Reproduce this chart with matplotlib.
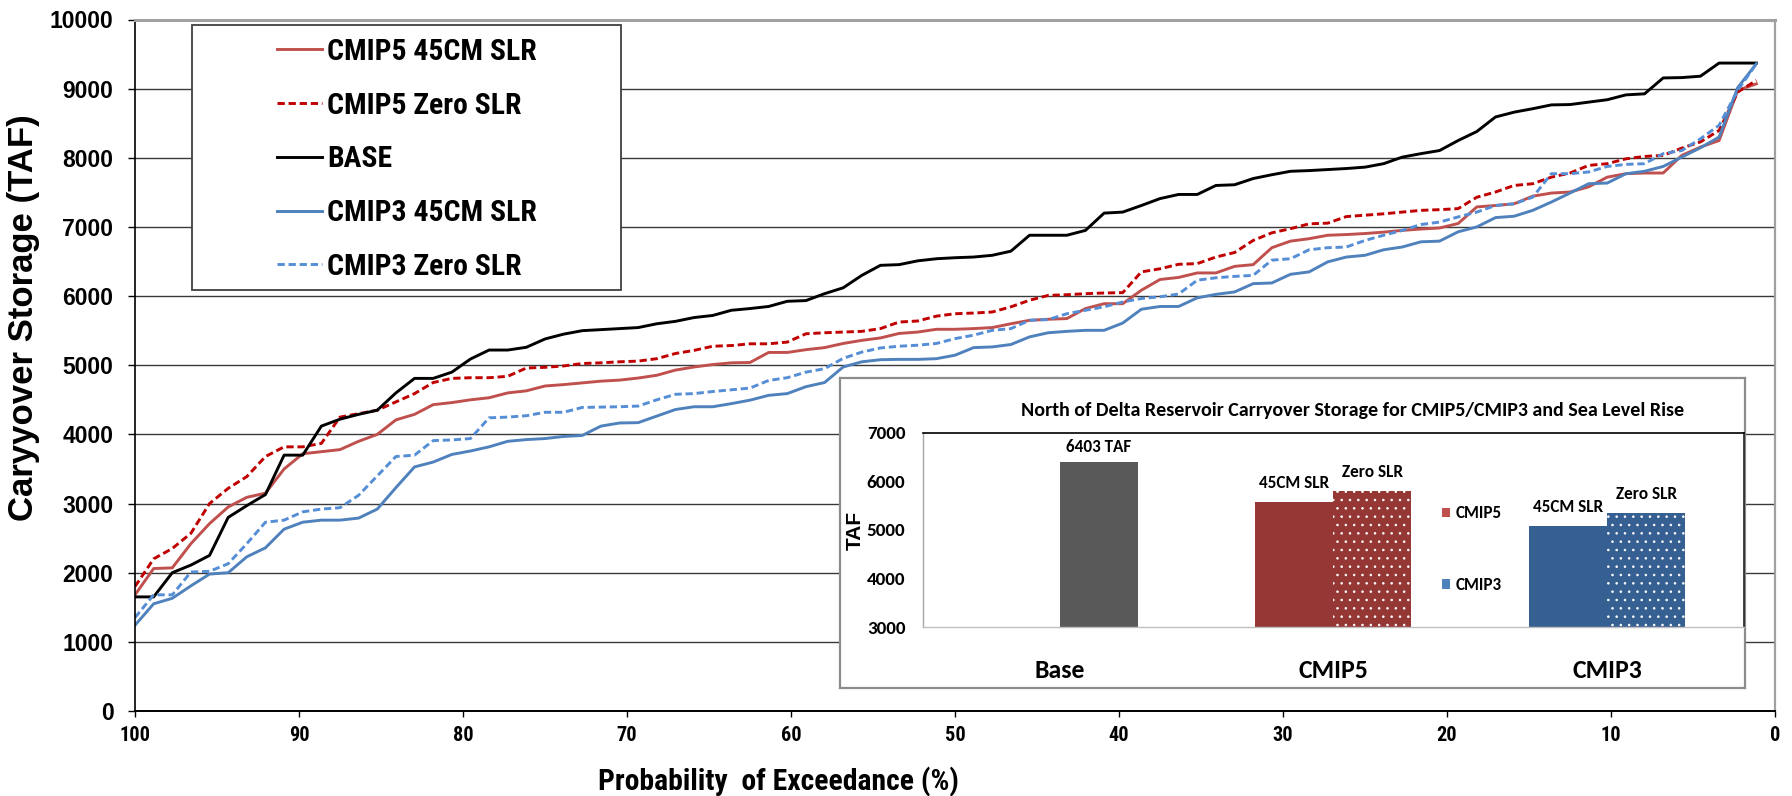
import numpy as np
import matplotlib
matplotlib.use("Agg")
import matplotlib.pyplot as plt
from matplotlib import font_manager
from matplotlib.patches import Patch, Rectangle

# ------------------------------------------------------------------ data
series_labels = ["CMIP5 45CM SLR", "CMIP5 Zero SLR", "BASE",
                 "CMIP3 45CM SLR", "CMIP3 Zero SLR"]

cmip5_45cm = [1680, 2060, 2070, 2420, 2710, 2950, 3090, 3150, 3500, 3720,
              3750, 3780, 3900, 4000, 4210, 4290, 4430, 4460, 4500, 4530,
              4600, 4630, 4700, 4720, 4745, 4770, 4785, 4815, 4855, 4930,
              4975, 5010, 5035, 5040, 5185, 5185, 5225, 5255, 5315, 5360,
              5395, 5460, 5480, 5520, 5520, 5530, 5545, 5600, 5650, 5665,
              5675, 5820, 5890, 5890, 6085, 6240, 6270, 6335, 6335, 6430,
              6455, 6700, 6795, 6830, 6880, 6890, 6905, 6925, 6950, 6970,
              6985, 7050, 7290, 7310, 7335, 7445, 7490, 7505, 7580, 7720,
              7770, 7780, 7780, 8035, 8155, 8250, 8975, 9070]

cmip5_zero = [1800, 2200, 2350, 2570, 3000, 3220, 3390, 3680, 3820, 3820,
              3870, 4250, 4300, 4350, 4470, 4590, 4750, 4810, 4820, 4820,
              4840, 4960, 4970, 4990, 5025, 5035, 5050, 5060, 5095, 5170,
              5215, 5275, 5285, 5310, 5310, 5335, 5455, 5470, 5480, 5490,
              5530, 5625, 5640, 5710, 5745, 5755, 5770, 5845, 5940, 6010,
              6020, 6035, 6045, 6050, 6350, 6395, 6460, 6470, 6565, 6630,
              6805, 6915, 6975, 7045, 7055, 7150, 7170, 7190, 7215, 7240,
              7250, 7265, 7430, 7505, 7600, 7625, 7720, 7780, 7890, 7915,
              7985, 8020, 8035, 8140, 8230, 8395, 8950, 9120]

base = [1650, 1650, 2000, 2110, 2250, 2800, 2970, 3130, 3700, 3700,
        4120, 4220, 4290, 4350, 4600, 4810, 4810, 4900, 5090, 5220,
        5220, 5260, 5380, 5450, 5500, 5515, 5530, 5545, 5600, 5635,
        5690, 5720, 5795, 5820, 5850, 5925, 5935, 6035, 6120, 6300,
        6445, 6455, 6510, 6540, 6555, 6565, 6590, 6650, 6880, 6880,
        6880, 6950, 7200, 7215, 7310, 7410, 7470, 7470, 7600, 7610,
        7700, 7755, 7805, 7815, 7830, 7845, 7865, 7915, 8010, 8060,
        8105, 8250, 8380, 8590, 8660, 8710, 8765, 8770, 8805, 8840,
        8910, 8925, 9155, 9160, 9180, 9370, 9370, 9370]

cmip3_45cm = [1240, 1550, 1630, 1810, 1980, 2000, 2230, 2360, 2630, 2730,
              2760, 2760, 2790, 2920, 3230, 3530, 3600, 3710, 3760, 3820,
              3900, 3925, 3940, 3970, 3985, 4120, 4165, 4170, 4265, 4360,
              4400, 4400, 4445, 4495, 4565, 4590, 4690, 4750, 4975, 5050,
              5080, 5085, 5085, 5095, 5145, 5255, 5265, 5300, 5410, 5470,
              5490, 5505, 5505, 5610, 5810, 5850, 5850, 5975, 6025, 6060,
              6180, 6190, 6315, 6350, 6495, 6565, 6590, 6670, 6710, 6785,
              6795, 6930, 7000, 7135, 7155, 7240, 7360, 7490, 7625, 7635,
              7770, 7805, 7875, 8010, 8145, 8300, 9015, 9360]

cmip3_zero = [1350, 1680, 1680, 2010, 2020, 2130, 2420, 2730, 2760, 2880,
              2920, 2940, 3120, 3400, 3680, 3700, 3910, 3920, 3940, 4240,
              4250, 4270, 4320, 4320, 4390, 4395, 4400, 4410, 4500, 4580,
              4590, 4620, 4645, 4670, 4780, 4820, 4900, 4950, 5100, 5190,
              5250, 5275, 5290, 5315, 5385, 5435, 5505, 5530, 5650, 5660,
              5745, 5795, 5845, 5915, 5965, 5990, 6030, 6230, 6265, 6285,
              6300, 6520, 6540, 6670, 6700, 6710, 6805, 6880, 6950, 7035,
              7070, 7145, 7215, 7310, 7335, 7430, 7770, 7770, 7795, 7875,
              7905, 7915, 8060, 8105, 8275, 8470, 8975, 9360]

x_ticks = [100, 90, 80, 70, 60, 50, 40, 30, 20, 10, 0]
y_ticks = [0, 1000, 2000, 3000, 4000, 5000, 6000, 7000, 8000, 9000, 10000]

bar_categories = ["Base", "CMIP5", "CMIP3"]
bar_45cm = [np.nan, 5580, 5080]
bar_zero = [6403, 5800, 5355]
bar_45cm_labels = ["", "45CM SLR", "45CM SLR"]
bar_zero_labels = ["6403 TAF", "Zero SLR", "Zero SLR"]
inset_legend_labels = ["CMIP5", "CMIP3"]
inset_y_ticks = [3000, 4000, 5000, 6000, 7000]
inset_title = "North of Delta Reservoir Carryover Storage for CMIP5/CMIP3 and Sea Level Rise"

# exceedance probability of each ranked value (rank / n)
n = len(base)
exceed = 100.0 * (n - np.arange(n)) / n

# ------------------------------------------------------------------ fonts
ttf = font_manager.fontManager.ttflist
names = {f.name for f in ttf}


def _is_bold(f):
    try:
        return int(f.weight) >= 600
    except (TypeError, ValueError):
        return str(f.weight).lower() in ("bold", "semibold", "demibold", "heavy", "black")


def pick_narrow():
    for nm, sc in [("Liberation Sans Narrow", 1.0), ("Arial Narrow", 1.0),
                   ("Roboto Condensed", 1.04), ("Noto Sans Condensed", 1.04),
                   ("Open Sans Condensed", 1.04)]:
        if nm in names:
            return nm, "normal", sc
    for nm, sc in [("Noto Sans", 1.04), ("Open Sans", 1.04), ("Roboto", 1.04)]:
        for f in ttf:
            if f.name == nm and f.stretch in ("condensed", "semi-condensed") and _is_bold(f):
                return nm, f.stretch, sc
    return "Liberation Sans", "normal", 0.88


NARROW, NSTRETCH, NS = pick_narrow()
ARIAL = "Liberation Sans"
CAL = "Carlito" if "Carlito" in names else "Lato"
CS = 1.0 if CAL == "Carlito" else 0.92
plt.rcParams["hatch.linewidth"] = 0.6

W, H = 1792, 796


def fx(px):
    return px / W


def fy(py):
    return 1 - py / H


fig = plt.figure(figsize=(W / 100, H / 100), dpi=100)

# ------------------------------------------------------------------ main chart
ax = fig.add_axes([fx(135), fy(711), (1775 - 135) / W, (711 - 19.5) / H])

series = [cmip5_45cm, cmip5_zero, base, cmip3_45cm, cmip3_zero]
styles = [
    dict(color="#C0504D", lw=2.1, ls="-"),
    dict(color="#C00000", lw=2.1, ls=(0, (2.5, 1.3))),
    dict(color="black", lw=2.1, ls="-"),
    dict(color="#4F81BD", lw=2.1, ls="-"),
    dict(color="#558ED5", lw=2.1, ls=(0, (2.5, 1.3))),
]
handles = []
for vals, lab, st in zip(series, series_labels, styles):
    h, = ax.plot(exceed, vals, label=lab, zorder=2, **st)
    handles.append(h)

ax.set_xlim(100, 0)
ax.set_ylim(0, 10000)
ax.set_xticks(x_ticks)
ax.set_xticklabels([str(t) for t in x_ticks])
ax.set_yticks(y_ticks)
ax.set_yticklabels([str(t) for t in y_ticks])
ax.yaxis.grid(True, color="#3a3a3a", lw=1.0)
ax.set_axisbelow(True)
ax.tick_params(axis="x", direction="out", length=4.3, width=1, pad=6.5)
ax.tick_params(axis="y", direction="out", length=5, width=1, pad=10.5)
for t in ax.get_xticklabels():
    t.set_fontfamily(NARROW); t.set_fontstretch(NSTRETCH)
    t.set_fontweight("bold"); t.set_fontsize(14 * NS)
for t in ax.get_yticklabels():
    t.set_fontfamily(ARIAL); t.set_fontweight("bold"); t.set_fontsize(16.5)
ax.spines["left"].set_color("black"); ax.spines["left"].set_linewidth(1.2)
ax.spines["bottom"].set_color("black"); ax.spines["bottom"].set_linewidth(1.4)
ax.spines["top"].set_color("#a0a0a0"); ax.spines["top"].set_linewidth(2.2)
ax.spines["right"].set_color("#a0a0a0"); ax.spines["right"].set_linewidth(1.6)

# legend box
box = Rectangle((fx(191.5), fy(290.5)), (620.5 - 191.5) / W, (290.5 - 25.5) / H,
                transform=fig.transFigure, facecolor="white",
                edgecolor="#404040", lw=1.3, zorder=4)
ax.add_patch(box)
leg_size = 20.5 * NS
leg_px = leg_size * 100 / 72
leg = ax.legend(handles=handles, loc="upper left",
                bbox_to_anchor=(fx(277.3), fy(51.7 - 0.47 * leg_px)),
                bbox_transform=fig.transFigure, frameon=False,
                prop=dict(family=NARROW, stretch=NSTRETCH, weight="bold", size=leg_size),
                handlelength=45 / leg_px, handletextpad=5 / leg_px,
                labelspacing=(53.6 - 0.94 * leg_px) / leg_px,
                borderpad=0, borderaxespad=0)
leg.set_zorder(5)

fig.text(fx(24), fy(318), "Caryyover Storage (TAF)", rotation=90,
         ha="center", va="center", family=ARIAL, weight="bold", size=25)
fig.text(fx(778), fy(782), "Probability  of Exceedance (%)",
         ha="center", va="center", family=NARROW, stretch=NSTRETCH,
         weight="bold", size=20.5 * NS)

# ------------------------------------------------------------------ inset frame
axf = fig.add_axes([fx(840), fy(688), (1745 - 840) / W, (688 - 378) / H])
axf.set_zorder(2)
axf.set_facecolor("white")
axf.set_xticks([]); axf.set_yticks([])
for s in axf.spines.values():
    s.set_color("#8c8c8c"); s.set_linewidth(1.6)

# ------------------------------------------------------------------ inset bars
axb = fig.add_axes([fx(922.7), fy(627.3), (1744 - 922.7) / W, (627.3 - 432.7) / H])
axb.set_zorder(3)
axb.set_facecolor("white")
bw = 0.285
xs = np.arange(len(bar_categories))
bar_colors = ["#595959", "#953735", "#376092"]
zero_hatch = [None, "..", ".."]
for i in range(len(bar_categories)):
    if not np.isnan(bar_45cm[i]):
        axb.bar(xs[i] - bw / 2, bar_45cm[i], width=bw, color=bar_colors[i], lw=0)
        axb.annotate(bar_45cm_labels[i], (xs[i] - bw / 2, bar_45cm[i]),
                     xytext=(0, 8), textcoords="offset points", ha="center",
                     va="bottom", family=CAL, weight="bold", size=12.3 * CS)
    if zero_hatch[i]:
        axb.bar(xs[i] + bw / 2, bar_zero[i], width=bw, color=bar_colors[i],
                edgecolor="white", lw=0, hatch=zero_hatch[i])
        off = 8
    else:
        axb.bar(xs[i] + bw / 2, bar_zero[i], width=bw, color=bar_colors[i], lw=0)
        off = 4.5
    axb.annotate(bar_zero_labels[i], (xs[i] + bw / 2, bar_zero[i]),
                 xytext=(0, off), textcoords="offset points", ha="center",
                 va="bottom", family=CAL, weight="bold", size=12.3 * CS)

axb.set_xlim(-0.5, 2.5)
axb.set_ylim(3000, 7000)
axb.set_yticks(inset_y_ticks)
axb.set_yticklabels([str(t) for t in inset_y_ticks])
axb.set_xticks(xs)
axb.set_xticklabels(bar_categories)
axb.tick_params(axis="y", length=0, pad=12.5)
axb.tick_params(axis="x", length=0, pad=23)
for t in axb.get_yticklabels():
    t.set_fontfamily(CAL); t.set_fontweight("bold"); t.set_fontsize(13.8 * CS)
for t in axb.get_xticklabels():
    t.set_fontfamily(CAL); t.set_fontweight("bold"); t.set_fontsize(18.5 * CS)
axb.spines["top"].set_color("black"); axb.spines["top"].set_linewidth(1.2)
axb.spines["right"].set_color("#222222"); axb.spines["right"].set_linewidth(1.2)
axb.spines["left"].set_color("#a6a6a6"); axb.spines["left"].set_linewidth(1.0)
axb.spines["bottom"].set_color("#bfbfbf"); axb.spines["bottom"].set_linewidth(1.0)

inset_handles = [Patch(facecolor="#C0504D", edgecolor="none"),
                 Patch(facecolor="#4F81BD", edgecolor="none")]
lg2 = axb.legend(inset_handles, inset_legend_labels, loc="upper left",
                 bbox_to_anchor=(fx(1441.7), fy(505.5)), bbox_transform=fig.transFigure,
                 frameon=False, prop=dict(family=CAL, weight="bold", size=12.3 * CS),
                 handlelength=0.5, handleheight=0.5, handletextpad=0.3,
                 labelspacing=3.25, borderpad=0, borderaxespad=0)

fig.text(fx(1353), fy(410.7), inset_title, ha="center", va="center",
         family=CAL, weight="bold", size=14.4 * CS, zorder=10)
fig.text(fx(855), fy(530), "TAF", rotation=90, ha="center", va="center",
         family=ARIAL, weight="bold", size=15, zorder=10)

fig.savefig("out.png", dpi=100)
